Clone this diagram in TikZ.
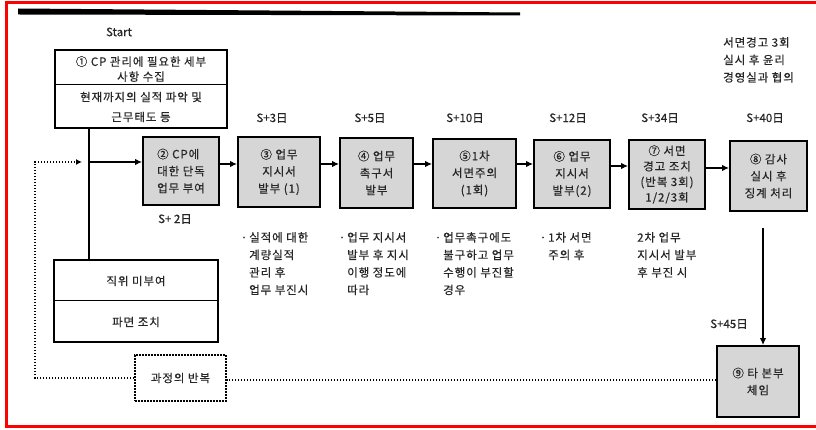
\documentclass[tikz,border=0pt]{standalone}
\usepackage{fontspec}
\setmainfont{Noto Sans CJK KR}[FakeBold=0.4]
\newfontfamily\krsp{Noto Sans CJK KR}[LetterSpace=8,FakeBold=0.4]
\usetikzlibrary{arrows.meta,calc}
\begin{document}
\begin{tikzpicture}[x=1pt,y=-1pt,
  every node/.style={font=\krsp\fontsize{11.5}{17}\selectfont, text=black!85},
  gbox/.style={draw=black, line width=1.8pt, fill=black!16, align=center, inner sep=1pt},
  wbox/.style={draw=black, line width=1.5pt, fill=white},
  arr/.style={line width=1.8pt, -{Latex[length=7pt,width=6.5pt]}},
  trunk/.style={line width=1.5pt},
  dots/.style={line width=1.6pt, dash pattern=on 1.6pt off 1.4pt},
  note/.style={align=left, anchor=north west, inner sep=0pt, font=\krsp\fontsize{11.5}{17.5}\selectfont},
  tlabel/.style={inner sep=0pt, font=\rmfamily\fontsize{11.5}{12}\selectfont}
]
\useasboundingbox (0,0) rectangle (816,430);
% frame
\draw[red, line width=3pt] (816,3) -- (6,3) -- (6,426) -- (816,426);
\fill[black] (18,8.5) -- (520,12.5) -- (520,15.5) -- (18,14.5) -- cycle;

% start and box 1
\node[tlabel] (start) at (119,32) {Start};
\node[wbox, minimum width=172, minimum height=78] (b1) at (141,89) {};
\draw[line width=1pt] (b1.west |- 0,85) -- (b1.east |- 0,85);
\node[align=center, inner sep=0pt, font=\krsp\fontsize{11.5}{15}\selectfont] (b1a) at (141,69) {① CP 관리에 필요한 세부\\사항 수집};
\node[align=center, inner sep=0pt, font=\krsp\fontsize{11.5}{20}\selectfont] (b1b) at (141,107) {현재까지의 실적 파악 및\\근무태도 등};

% lower left box
\node[wbox, minimum width=164, minimum height=82] (lb) at (136,301) {};
\draw[line width=1pt] (lb.west |- 0,300) -- (lb.east |- 0,300);
\node[inner sep=0pt] (lba) at (136,281) {직위 미부여};
\node[inner sep=0pt] (lbb) at (136,322) {파면 조치};

% trunk
\coordinate (tj) at (89,162);
\draw[trunk] (b1.south -| tj) -- (lb.north -| tj);

% process boxes
\node[gbox, minimum width=76, minimum height=68, align=left] (b2) at (181,171) {② CP에\\대한 단독\\업무 부여};
\node[gbox, minimum width=82, minimum height=70] (b3) at (279,172) {③ 업무\\지시서\\발부 (1)};
\node[gbox, minimum width=73, minimum height=70] (b4) at (376.5,173) {④ 업무\\촉구서\\발부};
\node[gbox, minimum width=83, minimum height=69] (b5) at (474.5,173.5) {⑤1차\\서면주의\\(1회)};
\node[gbox, minimum width=76, minimum height=68] (b6) at (572,174) {⑥ 업무\\지시서\\발부(2)};
\node[gbox, minimum width=76, minimum height=69, font=\krsp\fontsize{11.5}{15.5}\selectfont] (b7) at (667,174.5) {⑦ 서면\\경고 조치\\(반복 3회)\\1/2/3회};
\node[gbox, minimum width=77, minimum height=70] (b8) at (768.5,176) {⑧ 감사\\실시 후\\징계 처리};
\node[gbox, minimum width=82, minimum height=71] (b9) at (758,381.5) {⑨ 타 본부\\체임};

% arrows
\draw[arr] (tj) -- (b2.west |- tj);
\draw[arr] (b2.east |- 0,164) -- (b3.west |- 0,164);
\draw[arr] (b3.east |- 0,164) -- (b4.west |- 0,164);
\draw[arr] (b4.east |- 0,164) -- (b5.west |- 0,164);
\draw[arr] (b5.east |- 0,164) -- (b6.west |- 0,164);
\draw[arr] (b6.east |- 0,166) -- (b7.west |- 0,166);
\draw[arr] (b7.east |- 0,168) -- (b8.west |- 0,168);
\coordinate (dtop) at (763,228);
\draw[arr] (dtop) -- (b9.north -| dtop);

% repeat loop
\node[draw=black, dots, minimum width=91, minimum height=46] (rep) at (180.5,378) {과정의 반복};
\coordinate (lc) at (35,378);
\coordinate (la) at (82,162);
\draw[dots] (b9.west |- 0,380) -- (rep.east |- 0,380);
\draw[dots, -{Latex[length=6pt,width=6pt]}] (rep.west) -- (lc) -- (lc |- la) -- (la);

% time labels
\node[tlabel] (s3) at (272,118) {S+3日};
\node[tlabel] (s5) at (370,118) {S+5日};
\node[tlabel] (s10) at (465,118) {S+10日};
\node[tlabel] (s12) at (568,118) {S+12日};
\node[tlabel] (s34) at (660,118) {S+34日};
\node[tlabel] (s40) at (765,118) {S+40日};
\node[tlabel] (s2) at (175,219) {S+ 2日};
\node[tlabel] (s45) at (729,324) {S+45日};

% notes
\node[note] (n1) at (249,232) {\llap{·\,}실적에 대한\\계량실적\\관리 후\\업무 부진시};
\node[note] (n2) at (347,232) {\llap{·\,}업무 지시서\\발부 후 지시\\이행 정도에\\따라};
\node[note] (n3) at (443,232) {\llap{·\,}업무촉구에도\\불구하고 업무\\수행이 부진할\\경우};
\node[note] (n4) at (548,232) {\llap{·\,}1차 서면\\주의 후};
\node[note] (n5) at (637,232) {2차 업무\\지시서 발부\\후 부진 시};
\node[note] (n6) at (723,37) {서면경고 3회\\실시 후 윤리\\경영실과 협의};
\end{tikzpicture}
\end{document}
